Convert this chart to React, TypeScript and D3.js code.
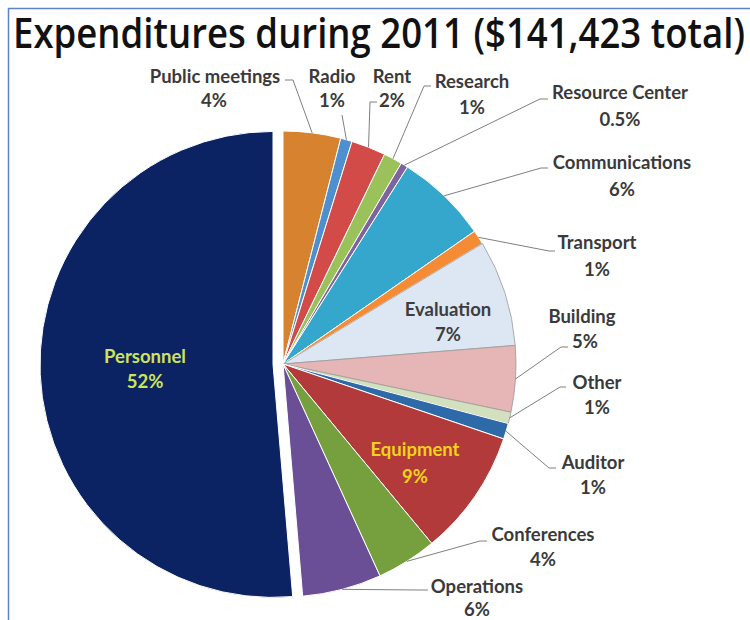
import React from 'react';
import * as d3 from 'd3';

const title = 'Expenditures during 2011 ($141,423 total)';
const categories = ['Public meetings', 'Radio', 'Rent', 'Research', 'Resource Center', 'Communications', 'Transport', 'Evaluation', 'Building', 'Other', 'Auditor', 'Equipment', 'Conferences', 'Operations', 'Personnel'];
const values = [4.0, 0.8, 2.4, 1.3, 0.5, 6.4, 1.0, 7.4, 4.6, 0.8, 1.1, 8.8, 4.2, 5.5, 51.5];
const pctLabels = ['4%', '1%', '2%', '1%', '0.5%', '6%', '1%', '7%', '5%', '1%', '1%', '9%', '4%', '6%', '52%'];

const COLORS = ['#d7822f', '#4e8fd0', '#d24b48', '#9bc25a', '#7e63a0', '#35a7cc', '#f58c35', '#dde7f4', '#e6b5b5', '#d3e0bd', '#2e6aa8', '#b23a3a', '#76a03e', '#6a4f96', '#0b2263'];
const LIGHT = new Set(['Evaluation', 'Building', 'Other']);

// label layout: name center (x,y), pct center (px,py), leader start (sx,sy) + elbow x (hx)
type L = { x: number; y: number; px: number; py: number; color?: string; leader?: [number, number, number] };
const LAYOUT: Record<string, L> = {
  'Public meetings': { x: 215, y: 77, px: 214, py: 101, leader: [285, 80, 293] },
  'Radio': { x: 332, y: 77, px: 332, py: 101, leader: [342, 115, 342] },
  'Rent': { x: 392, y: 77, px: 392, py: 101, leader: [377, 102, 370] },
  'Research': { x: 472, y: 82, px: 472, py: 108, leader: [431, 86, 424] },
  'Resource Center': { x: 620, y: 93, px: 620, py: 120, leader: [548, 99, 540] },
  'Communications': { x: 622, y: 163, px: 622, py: 190, leader: [548, 168, 541] },
  'Transport': { x: 597, y: 243, px: 597, py: 270, leader: [555, 251, 549] },
  'Evaluation': { x: 448, y: 310, px: 448, py: 335, color: '#3d3d3d' },
  'Building': { x: 582, y: 317, px: 585, py: 342, leader: [568, 347, 561] },
  'Other': { x: 597, y: 383, px: 597, py: 408, leader: [566, 387, 560] },
  'Auditor': { x: 593, y: 463, px: 593, py: 488, leader: [556, 468, 549] },
  'Equipment': { x: 415, y: 450, px: 415, py: 477, color: '#f3d21c' },
  'Conferences': { x: 543, y: 535, px: 543, py: 560, leader: [487, 541, 480] },
  'Operations': { x: 477, y: 587, px: 477, py: 610, leader: [428, 590, 420] },
  'Personnel': { x: 145, y: 357, px: 145, py: 382, color: '#cfe35a' },
};

const CX = 283;
const CY = 364;
const R = 233;
const EXPLODE = 10;

export default function App() {
  const data = categories.map((c, i) => ({ name: c, value: values[i], pct: pctLabels[i], color: COLORS[i] }));
  const pie = d3.pie<any>().sort(null).value((d: any) => d.value).startAngle(0).endAngle(2 * Math.PI);
  const arcs = pie(data);
  const arc = d3.arc<any>().innerRadius(0).outerRadius(R);
  const edge = d3.arc<any>().innerRadius(R).outerRadius(R);
  const font = 'Lato, "Open Sans", sans-serif';

  return (
    <>
      <style>{`body{margin:0}`}</style>
      <svg width={750} height={620} style={{ display: 'block', background: '#fff' }}>
        <rect x={8.5} y={8.5} width={800} height={700} fill="none" stroke="#5b84c4" strokeWidth={1.5} />
        <text x={13} y={48} fontFamily={'"Open Sans", sans-serif'} fontWeight={600} fontSize={42} fill="#111" textLength={732} lengthAdjust="spacingAndGlyphs">{title}</text>
        {arcs.map((a, i) => {
          const mid = (a.startAngle + a.endAngle) / 2;
          const ex = a.data.name === 'Personnel' ? EXPLODE : 0;
          const ox = CX + Math.sin(mid) * ex;
          const oy = CY - Math.cos(mid) * ex;
          return (
            <path key={i} d={arc(a) as string} transform={`translate(${ox},${oy})`} fill={a.data.color}
              stroke={LIGHT.has(a.data.name) ? '#9a9a9a' : '#ffffff'} strokeWidth={LIGHT.has(a.data.name) ? 0.8 : 1} />
          );
        })}
        {arcs.map((a, i) => {
          const lay = LAYOUT[a.data.name];
          if (!lay || !lay.leader) return null;
          const [sx, sy, hx] = lay.leader;
          const [px, py] = edge.centroid(a);
          return <path key={'l' + i} d={`M${sx},${sy}H${hx}L${CX + px},${CY + py}`} fill="none" stroke="#7f7f7f" strokeWidth={1} />;
        })}
        {arcs.map((a, i) => {
          const lay = LAYOUT[a.data.name];
          const col = lay.color || '#3a3a3a';
          return (
            <g key={'t' + i} fontFamily={font} fontWeight={700} fontSize={18.5} fill={col} textAnchor="middle">
              <text x={lay.x} y={lay.y} dy="0.35em">{a.data.name}</text>
              <text x={lay.px} y={lay.py} dy="0.35em">{a.data.pct}</text>
            </g>
          );
        })}
      </svg>
    </>
  );
}
